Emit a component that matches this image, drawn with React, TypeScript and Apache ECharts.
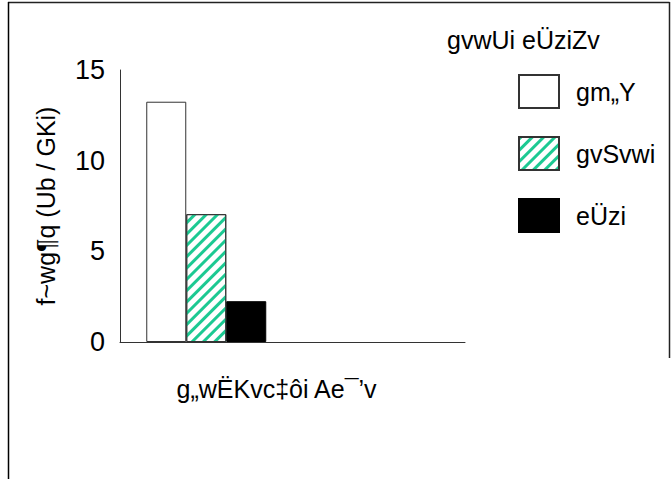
import React, { useEffect, useRef } from "react";
import * as echarts from "echarts";

const categories = ["", ""];
const seriesNames = ["gm„Y", "gvSvwi", "eÜzi"];
const smoothValues = [13.25, null];
const mediumValues = [7.05, null];
const roughValues = [2.25, null];
const legendTitle = "gvwUi eÜziZv";
const xName = "g„wËKvc‡ôi Ae¯’v";
const yName = "f~wg¶q (Ub / GKi)";

const FONT = "'Liberation Sans', Arial, sans-serif";

export default function App() {
  const ref = useRef<HTMLDivElement>(null);
  useEffect(() => {
    if (!ref.current) return;
    const chart = echarts.init(ref.current, null, { renderer: "svg" });
    chart.setOption({
      animation: false,
      textStyle: { fontFamily: FONT, color: "#000" },
      grid: { left: 120, top: 70, right: 206, bottom: 137 },
      legend: {
        orient: "vertical",
        left: 513,
        top: 69,
        itemWidth: 40,
        itemHeight: 33,
        itemGap: 27,
        icon: "rect",
        textStyle: { fontFamily: FONT, fontSize: 25, color: "#000", padding: [0, 0, 0, 12] },
        data: seriesNames,
      },
      xAxis: {
        type: "category",
        data: categories,
        name: xName,
        nameLocation: "middle",
        nameGap: 34,
        nameTextStyle: { fontFamily: FONT, fontSize: 25, color: "#000", padding: [0, 32, 0, 0] },
        axisLine: { lineStyle: { color: "#333", width: 1 } },
        axisTick: { show: false },
        axisLabel: { show: false },
      },
      yAxis: {
        type: "value",
        min: 0,
        max: 15,
        interval: 5,
        name: yName,
        nameLocation: "middle",
        nameRotate: 90,
        nameGap: 62,
        nameTextStyle: { fontFamily: FONT, fontSize: 25, color: "#000" },
        axisLine: { show: true, lineStyle: { color: "#333", width: 1 } },
        axisTick: { show: false },
        splitLine: { show: false },
        axisLabel: { fontFamily: FONT, fontSize: 27, color: "#000", margin: 15 },
      },
      series: [
        {
          name: seriesNames[0],
          type: "bar",
          data: smoothValues,
          barWidth: 40,
          barGap: "0%",
          itemStyle: { color: "#fff", borderColor: "#333", borderWidth: 1 },
        },
        {
          name: seriesNames[1],
          type: "bar",
          data: mediumValues,
          barWidth: 40,
          barGap: "0%",
          itemStyle: {
            color: "#fff",
            borderColor: "#333",
            borderWidth: 1,
            decal: {
              symbol: "rect",
              color: "#1cc992",
              backgroundColor: "#fff",
              dashArrayX: [1, 0],
              dashArrayY: [3, 5],
              rotation: -Math.PI / 4,
            },
          },
        },
        {
          name: seriesNames[2],
          type: "bar",
          data: roughValues,
          barWidth: 40,
          barGap: "0%",
          itemStyle: { color: "#000", borderColor: "#000", borderWidth: 1 },
        },
      ],
      graphic: [
        {
          type: "text",
          left: 447,
          top: 27,
          style: { text: legendTitle, fontFamily: FONT, fontSize: 25, fill: "#000" },
        },
        { type: "line", shape: { x1: 8, y1: 2.5, x2: 669.5, y2: 2.5 }, style: { stroke: "#222", lineWidth: 1.5 } },
        { type: "line", shape: { x1: 8.5, y1: 2, x2: 8.5, y2: 479 }, style: { stroke: "#000", lineWidth: 1.5 } },
        { type: "line", shape: { x1: 669.5, y1: 2, x2: 669.5, y2: 358 }, style: { stroke: "#222", lineWidth: 1.5 } },
      ],
    });
    return () => chart.dispose();
  }, []);
  return (
    <div
      ref={ref}
      style={{ position: "fixed", left: 0, top: 0, width: 671, height: 479, background: "#fff" }}
    />
  );
}
